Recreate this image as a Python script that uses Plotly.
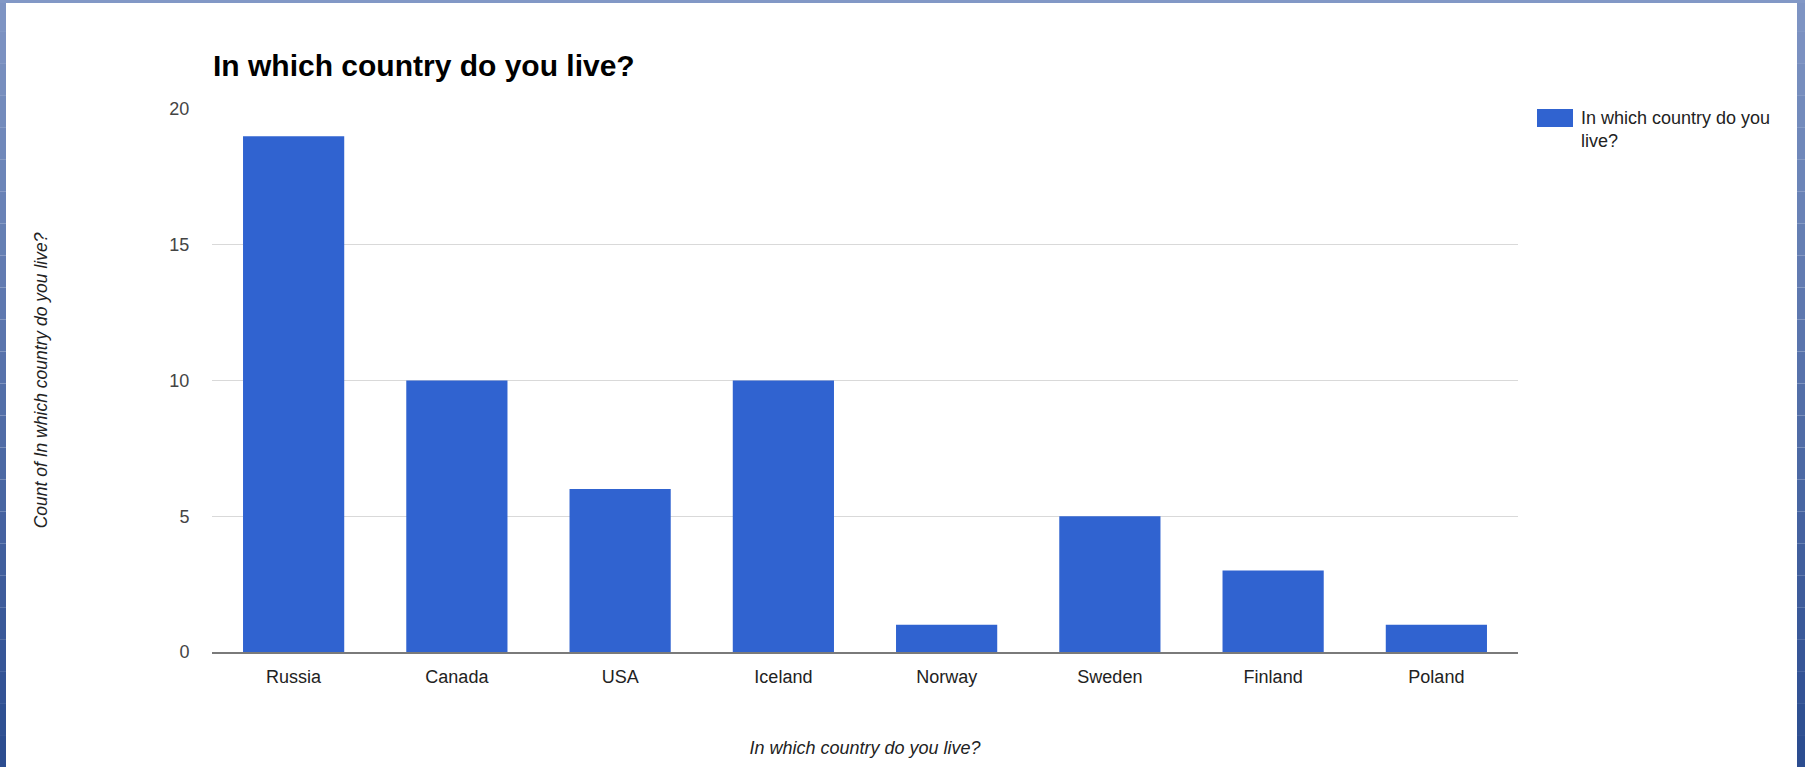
import plotly.graph_objects as go

countries = ["Russia", "Canada", "USA", "Iceland", "Norway", "Sweden", "Finland", "Poland"]
counts = [19, 10, 6, 10, 1, 5, 3, 1]
y_ticks = [0, 5, 10, 15, 20]
series_name = "In which country do you live?"

W, H = 1805, 767
L, R, T, B = 212, 1518, 109, 652  # plot area in pixels

def px(x):
    return (x - L) / (R - L)

def py(y):
    return (B - y) / (B - T)

FONT = "Arial, Liberation Sans, Helvetica, sans-serif"
BAR = "#3063d0"

fig = go.Figure()
fig.add_trace(go.Bar(
    x=countries, y=counts, name=series_name,
    marker=dict(color=BAR, line=dict(width=0)),
    showlegend=False,
))

shapes = []
def lerp(c1, c2, t):
    return "rgb(%d,%d,%d)" % tuple(round(a + (b - a) * t) for a, b in zip(c1, c2))

top_c = (128, 150, 196)
bot_c = (42, 75, 143)
N = 24
for i in range(N):
    y0 = H * i / N
    y1 = H * (i + 1) / N
    col = lerp(top_c, bot_c, (i + 0.5) / N)
    for x0, x1 in [(0, 6), (1797, W)]:
        shapes.append(dict(type="rect", xref="paper", yref="paper",
                           x0=px(x0), x1=px(x1), y0=py(y1), y1=py(y0),
                           fillcolor=col, line=dict(width=0), layer="below"))
shapes.append(dict(type="rect", xref="paper", yref="paper",
                   x0=px(0), x1=px(W), y0=py(3), y1=py(0),
                   fillcolor="rgb(130,152,198)", line=dict(width=0), layer="below"))
# legend swatch
shapes.append(dict(type="rect", xref="paper", yref="paper",
                   x0=px(1537), x1=px(1573), y0=py(127), y1=py(109),
                   fillcolor=BAR, line=dict(width=0)))

annotations = [
    dict(xref="paper", yref="paper", x=px(1579), y=py(106),
         xanchor="left", yanchor="top", align="left", showarrow=False,
         text="In which country do you<br>live?",
         font=dict(family=FONT, size=18, color="#222")),
]

fig.update_layout(
    width=W, height=H, autosize=False,
    margin=dict(l=L, r=W - R, t=T, b=H - B, pad=0),
    paper_bgcolor="white", plot_bgcolor="white",
    bargap=0.38,
    title=dict(text="<b>In which country do you live?</b>", x=px(213), xanchor="left",
               xref="paper", y=1 - 65 / H, yanchor="middle",
               font=dict(family=FONT, size=30, color="#000")),
    font=dict(family=FONT, color="#444"),
    shapes=shapes, annotations=annotations,
    xaxis=dict(
        tickfont=dict(family=FONT, size=18, color="#222"),
        ticks="outside", ticklen=8, tickcolor="rgba(0,0,0,0)",
        showgrid=False, showline=True, linecolor="#7a7a7a", linewidth=1.5,
        title=dict(text="<i>In which country do you live?</i>", standoff=55,
                   font=dict(family=FONT, size=18, color="#222")),
    ),
    yaxis=dict(
        range=[0, 20], tickvals=y_ticks, ticktext=[str(v) for v in y_ticks],
        tickfont=dict(family=FONT, size=18, color="#444"),
        ticks="outside", ticklen=18, tickcolor="rgba(0,0,0,0)",
        showgrid=True, gridcolor="#d9d9d9", gridwidth=1,
        zeroline=False, showline=False,
        title=dict(text="<i>Count of In which country do you live?</i>", standoff=117,
                   font=dict(family=FONT, size=17.5, color="#222")),
    ),
)

fig.write_html("out.html", config={"displayModeBar": False},
               post_script="document.body.style.margin='0';document.body.style.overflow='hidden';")
